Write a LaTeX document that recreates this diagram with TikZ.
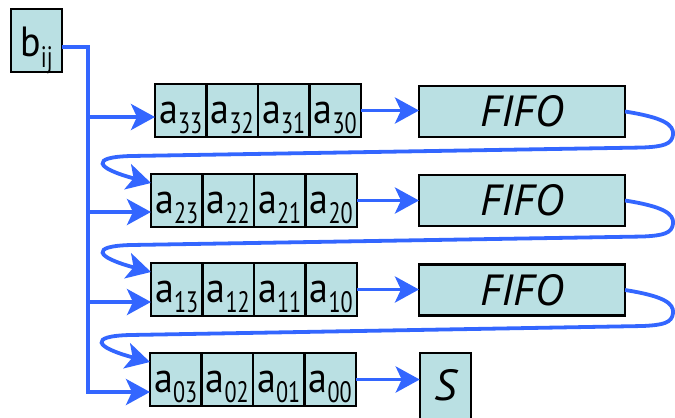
\documentclass[tikz,border=0pt]{standalone}
\usepackage{fontspec}
\setmainfont{PT Sans}
\newfontfamily\cellfont[FakeStretch=0.9]{PT Sans}
\newfontfamily\narrowfont[FakeStretch=0.75]{PT Sans}
\usetikzlibrary{arrows.meta,positioning,calc}
\definecolor{cellfill}{RGB}{186,224,227}
\definecolor{wireblue}{RGB}{51,102,255}
% lowered, narrow index
\newcommand{\ix}[1]{\raisebox{-0.5ex}{\narrowfont\fontsize{21}{21}\selectfont #1}}
\begin{document}
\begin{tikzpicture}[x=0.025cm, y=-0.025cm,
  cell/.style={draw, line width=1.5pt, fill=cellfill, outer sep=0pt, inner sep=0pt,
    minimum width=1.2875cm, minimum height=1.325cm,
    font=\cellfont\fontsize{30}{33}\selectfont, text height=25pt, text depth=7pt},
  fifo/.style={cell, minimum width=5.15cm, minimum height=1.275cm,
    font=\fontsize{31}{34}\selectfont\itshape, text height=22pt, text depth=0pt},
  wire/.style={draw=wireblue, line width=2.7pt},
  feed/.style={wire, -{Stealth[length=0.6cm, width=0.65cm, inset=0.15cm]}}]
\useasboundingbox (0,0) rectangle (675,417);

% shift registers, one row per index
\foreach \r/\x/\y/\d in {3/155/110.5/6.5, 2/151/200.5/11.5, 1/151/289.5/12.5, 0/150/379.5/12.5} {
  \node[cell] (a\r3) at (\x+25.75,\y) {a\ix{\r3}};
  \foreach \c [evaluate=\c as \p using int(\c+1)] in {2,1,0}
    \node[cell, right=0pt of a\r\p] (a\r\c) {a\ix{\r\c}};
  \coordinate (in\r) at ($(a\r3.west)+(0,\d)$);     % input from b
  \coordinate (top\r) at ($(a\r3.west)+(0,-17.5)$); % input from fifo
}

\node[fifo] (f3) at (522,111.5) {FIFO};
\node[fifo] (f2) at (522,200.5) {FIFO};
\node[fifo] (f1) at (522,290) {FIFO};
\node[cell, anchor=north, font=\fontsize{31}{34}\selectfont\itshape,
  text height=34pt, text depth=30pt] (s) at (445.5,353) {S};

\node[cell, minimum width=1.275cm, minimum height=1.575cm,
  text height=30pt, text depth=7pt] (b) at (36.5,40.5) {b\ix{ij}};

% broadcast bus
\coordinate (bus) at (88,47);
\draw[feed] (b.east |- bus) -- (bus) -- (bus |- in0) -- (in0);
\foreach \r in {3,2,1}
  \draw[feed] (bus |- in\r) -- (in\r);

% register outputs
\foreach \r/\f in {3/f3, 2/f2, 1/f1, 0/s}
  \draw[feed] (a\r0.east) -- (a\r0.east -| \f.west);

% fifo back into next row
\foreach \f/\r in {f3/2, f2/1, f1/0}
  \draw[feed] (\f.east) .. controls +(38,6) and +(1,-10) .. ++(48,23)
    .. controls +(-1,10) and +(20,-1) .. ++(-30,13)
    -- ($(top\r)+(-20,-27)$) .. controls +(-41,1) and +(-56,-15) .. (top\r);

\end{tikzpicture}
\end{document}
